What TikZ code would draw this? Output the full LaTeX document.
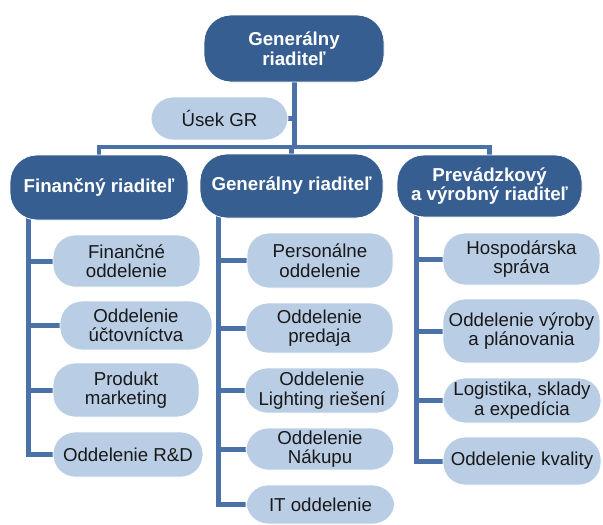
\documentclass[tikz,border=0pt]{standalone}
\usepackage{fontspec}
\setmainfont{Liberation Sans}
\usetikzlibrary{backgrounds}
\definecolor{darkbox}{RGB}{54,94,144}
\definecolor{linkcol}{RGB}{74,114,168}
\definecolor{lightbox}{RGB}{185,205,229}
\definecolor{txt}{RGB}{25,25,25}
\tikzset{
  headbox/.style={fill=darkbox, draw=white, line width=0.8pt, rounded corners=27pt,
    text=white, font=\fontsize{18.7}{19.5}\selectfont\bfseries, align=center, inner sep=0pt},
  unitbox/.style={fill=lightbox, draw=white, line width=0.8pt, rounded corners=22pt,
    text=txt, font=\fontsize{18.7}{19.5}\selectfont, align=center, inner sep=0pt},
  link/.style={draw=linkcol, line width=5pt},
  buslink/.style={draw=linkcol, line width=4.5pt},
}
\begin{document}
\begin{tikzpicture}[x=1pt,y=-1pt]
\useasboundingbox (0,0) rectangle (603,525);
% top
\node[headbox, minimum width=180pt, minimum height=67pt] (top) at (294,48.5) {Generálny\\riaditeľ};
\node[unitbox, minimum width=137pt, minimum height=43pt] (usek) at (219.5,118.5) {Úsek GR};
% level 2
\node[headbox, minimum width=178pt, minimum height=65pt] (fin) at (99,187.5) {Finančný riaditeľ};
\node[headbox, minimum width=183pt, minimum height=64pt] (gen) at (291.5,186) {Generálny riaditeľ};
\node[headbox, minimum width=185pt, minimum height=62pt] (prev) at (489.5,186) {Prevádzkový\\a výrobný riaditeľ};
% left column
\node[unitbox, minimum width=147pt, minimum height=52pt] (finodd) at (126.5,261) {Finančné\\oddelenie};
\node[unitbox, minimum width=152pt, minimum height=49pt] (uct) at (136,325.5) {Oddelenie\\účtovníctva};
\node[unitbox, minimum width=146pt, minimum height=54pt] (prod) at (126,390) {Produkt\\marketing};
\node[unitbox, minimum width=150pt, minimum height=45pt] (rd) at (128,454.5) {Oddelenie R\&D};
% middle column
\node[unitbox, minimum width=146pt, minimum height=55pt] (pers) at (320,260.5) {Personálne\\oddelenie};
\node[unitbox, minimum width=147pt, minimum height=50pt] (pred) at (319.5,328) {Oddelenie\\predaja};
\node[unitbox, minimum width=154pt, minimum height=45pt] (light) at (322,390.5) {Oddelenie\\Lighting riešení};
\node[unitbox, minimum width=148pt, minimum height=42pt] (nak) at (320,449) {Oddelenie\\Nákupu};
\node[unitbox, minimum width=149pt, minimum height=39pt] (it) at (320.5,504.5) {IT oddelenie};
% right column
\node[unitbox, minimum width=157pt, minimum height=52pt] (hosp) at (521.5,259) {Hospodárska\\správa};
\node[unitbox, minimum width=157pt, minimum height=64pt] (vyr) at (521.5,331) {Oddelenie výroby\\a plánovania};
\node[unitbox, minimum width=158pt, minimum height=45pt] (log) at (522,400.5) {Logistika, sklady\\a expedícia};
\node[unitbox, minimum width=158pt, minimum height=48pt] (kval) at (522,461) {Oddelenie kvality};
% connectors
\coordinate (bus) at (0,147);
\coordinate (fl) at (28,0);
\coordinate (ml) at (218,0);
\coordinate (rl) at (416,0);
\begin{scope}[on background layer]
\draw[link] (top.center) -- (top.center |- bus);
\draw[link] (usek.center) -- (usek.center -| top.center);
\draw[buslink] (fin.center) |- (prev.center |- bus) -- (prev.center);
\draw[link] (gen.center) -- (gen.center |- bus);
% left
\draw[link] (fl |- fin.center) |- (rd.center);
\draw[link] (fl |- finodd.center) -- (finodd.center);
\draw[link] (fl |- uct.center) -- (uct.center);
\draw[link] (fl |- prod.center) -- (prod.center);
% middle
\draw[link] (ml |- gen.center) |- (it.center);
\draw[link] (ml |- pers.center) -- (pers.center);
\draw[link] (ml |- pred.center) -- (pred.center);
\draw[link] (ml |- light.center) -- (light.center);
\draw[link] (ml |- nak.center) -- (nak.center);
% right
\draw[link] (rl |- prev.center) |- (kval.center);
\draw[link] (rl |- hosp.center) -- (hosp.center);
\draw[link] (rl |- vyr.center) -- (vyr.center);
\draw[link] (rl |- log.center) -- (log.center);
\end{scope}
\end{tikzpicture}
\end{document}
